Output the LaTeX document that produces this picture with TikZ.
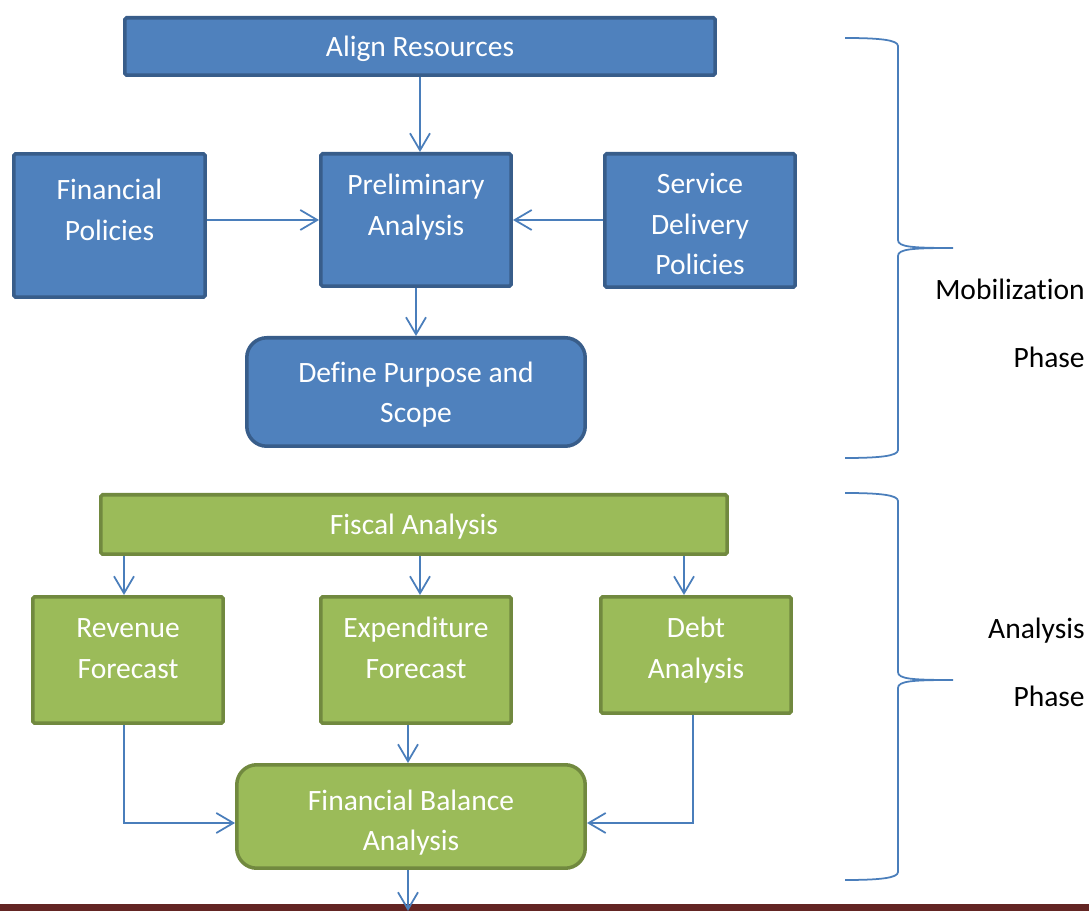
\documentclass[tikz,border=0pt]{standalone}
\usepackage{fontspec}
\setmainfont{Carlito}[Ligatures=NoCommon]
\usepackage{tikz}
\usetikzlibrary{arrows.meta}
\definecolor{bluefill}{HTML}{4F81BD}
\definecolor{blueline}{HTML}{385D8A}
\definecolor{greenfill}{HTML}{9BBB59}
\definecolor{greenline}{HTML}{71893F}
\definecolor{arrowblue}{HTML}{4A7EBB}
\definecolor{barred}{HTML}{632523}
\tikzset{
	bluebox/.style  = {draw=blueline, fill=bluefill, line width=2pt,
		rounded corners=1pt, text=white, inner sep=0pt},
	greenbox/.style = {draw=greenline, fill=greenfill, line width=2pt,
		rounded corners=1pt, text=white, inner sep=0pt},
	roundbox/.style = {rounded corners=0.4cm},
	flow/.style     = {draw=arrowblue, line width=1pt,
		-{Straight Barb[length=3.4mm, width=4mm]}},
	brace/.style    = {draw=arrowblue, line width=1pt},
	phase/.style    = {anchor=east, align=right, inner sep=0pt}
}
% text lines of a box, raised by #1
\newcommand{\boxlines}[2][0pt]{\raisebox{#1}[0pt][0pt]{\begin{tabular}{@{}c@{}}#2\end{tabular}}}
% curly brace on the right: top, tip, bottom
\newcommand{\phasebrace}[3]{%
	\draw[brace] (845,#1) .. controls (880,#1) and (898,#1+2) .. (898,#1+8)
	-- (898,#2-8) .. controls (898,#2-1) and (912,#2) .. (953,#2)
	.. controls (912,#2) and (898,#2+1) .. (898,#2+8)
	-- (898,#3-8) .. controls (898,#3-2) and (880,#3) .. (845,#3);}

\begin{document}
\begin{tikzpicture}[x=0.02cm, y=-0.02cm, font=\fontsize{16.8pt}{23.2pt}\selectfont]
	\useasboundingbox (0,0) rectangle (1089,911);
	\fill[barred] (0,904) rectangle (1089,911);
	
	% mobilization phase
	\draw
	node at (420,46.5) [bluebox, minimum width=11.81cm, minimum height=1.15cm] (align) {\boxlines[-5.4pt]{Align Resources}}
	node at (109.5,225.5) [bluebox, minimum width=3.83cm, minimum height=2.87cm] (finpol) {\boxlines[3.6pt]{Financial\\Policies}}
	node at (416,220) [bluebox, minimum width=3.81cm, minimum height=2.65cm] (prelim) {\boxlines[3.3pt]{Preliminary\\Analysis}}
	node at (700,220.5) [bluebox, minimum width=3.81cm, minimum height=2.67cm] (service) {\boxlines[-7.5pt]{Service\\Delivery\\Policies}}
	node at (416,392) [bluebox, roundbox, minimum width=6.77cm, minimum height=2.17cm] (define) {\boxlines[-5.7pt]{Define Purpose and\\Scope}};
	
	\draw[flow] (align.south -| prelim.north) ++(4,0) -- ++(0,75);
	\draw[flow] (finpol.east |- prelim.west) -- (prelim.west);
	\draw[flow] (service.west |- prelim.east) -- (prelim.east);
	\draw[flow] (prelim.south) -- (define.north);
	
	% analysis phase
	\draw
	node at (414,524.5) [greenbox, minimum width=12.53cm, minimum height=1.19cm] (fiscal) {\boxlines[-5.4pt]{Fiscal Analysis}}
	node at (128,660) [greenbox, minimum width=3.81cm, minimum height=2.53cm] (revenue) {\boxlines[1.6pt]{Revenue\\Forecast}}
	node at (416,660) [greenbox, minimum width=3.81cm, minimum height=2.53cm] (expend) {\boxlines[1.6pt]{Expenditure\\Forecast}}
	node at (696,655) [greenbox, minimum width=3.81cm, minimum height=2.33cm] (debt) {\boxlines[-1.2pt]{Debt\\Analysis}}
	node at (411,816.5) [greenbox, roundbox, minimum width=6.97cm, minimum height=2.07cm] (balance) {\boxlines[-7.7pt]{Financial Balance\\Analysis}};
	\coordinate (next) at (408,911);
	
	\draw[flow] ([xshift=-0.08cm]fiscal.south -| revenue.north) -- ([xshift=-0.08cm]revenue.north);
	\draw[flow] ([xshift=0.08cm]fiscal.south -| expend.north) -- ([xshift=0.08cm]expend.north);
	\draw[flow] ([xshift=-0.24cm]fiscal.south -| debt.north) -- ([xshift=-0.24cm]debt.north);
	\draw[flow] ([xshift=-0.08cm]revenue.south) |- ([yshift=-0.13cm]balance.west);
	\draw[flow] ([xshift=-0.06cm]debt.south) |- ([yshift=-0.13cm]balance.east);
	\draw[flow] ([xshift=-0.16cm]expend.south) -- ([xshift=-0.16cm]expend.south |- balance.north);
	\draw[flow] (balance.south -| next) -- (next);
	
	% braces and phase names
	\phasebrace{38}{248}{458}
	\phasebrace{493}{680}{880}
	\node[phase] (mobtext) at (1085,323) {Mobilization\\[15.4pt]Phase};
	\node[phase] (anatext) at (1085,662) {Analysis\\[15.4pt]Phase};
\end{tikzpicture}
\end{document}
